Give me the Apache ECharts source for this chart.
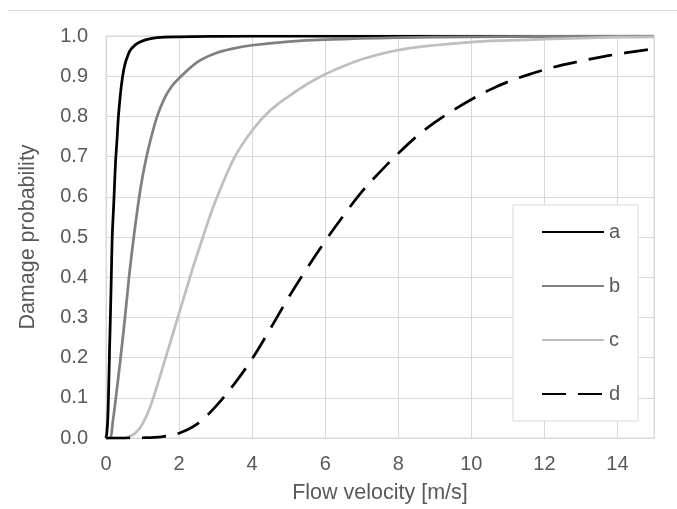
<!DOCTYPE html>
<html>
<head>
<meta charset="utf-8">
<script src="https://cdn.jsdelivr.net/npm/echarts@6/dist/echarts.min.js"></script>
<style>
  html, body { margin: 0; padding: 0; background: #fff; }
  #chart { width: 677px; height: 509px; }
</style>
</head>
<body>
<div id="chart"></div>
<script>
// Fragility curves: damage probability vs flow velocity, one [velocity, probability] list per curve
const curveNames = ['a', 'b', 'c', 'd'];

const curveA = [
  [0, 0], [0.02, 0.01], [0.05, 0.05], [0.08, 0.15], [0.1, 0.23], [0.12, 0.3],
  [0.145, 0.4], [0.17, 0.5], [0.2, 0.56], [0.22, 0.6], [0.25, 0.665], [0.27, 0.7],
  [0.3, 0.74], [0.34, 0.8], [0.4, 0.86], [0.455, 0.9], [0.52, 0.93], [0.6, 0.952],
  [0.66, 0.964], [0.8, 0.978], [0.93, 0.985], [1.1, 0.991], [1.4, 0.996], [2, 0.998],
  [3, 0.999], [5, 1], [15, 1]
];

const curveB = [
  [0, 0], [0.1, 0], [0.2, 0.05], [0.27, 0.1], [0.4, 0.2], [0.52, 0.3], [0.63, 0.4],
  [0.76, 0.5], [0.91, 0.6], [1.0, 0.65], [1.11, 0.7], [1.2, 0.735], [1.4, 0.8],
  [1.6, 0.845], [1.8, 0.875], [2.0, 0.895], [2.5, 0.935], [3.0, 0.957], [3.5, 0.969],
  [4.0, 0.977], [5, 0.986], [6, 0.991], [8, 0.996], [10, 0.998], [12, 0.999], [15, 1]
];

const curveC = [
  [0, 0], [0.5, 0], [0.6, 0.002], [0.8, 0.012], [1.0, 0.035], [1.2, 0.075],
  [1.4, 0.13], [1.6, 0.19], [1.8, 0.25], [2.0, 0.31], [2.2, 0.37], [2.4, 0.43],
  [2.6, 0.485], [2.8, 0.54], [3.0, 0.59], [3.5, 0.695], [4.0, 0.765], [4.5, 0.815],
  [5.0, 0.85], [5.5, 0.88], [6.0, 0.905], [7.0, 0.942], [8.0, 0.965], [9, 0.977],
  [10, 0.985], [11, 0.989], [12, 0.992], [13, 0.995], [14, 0.997], [15, 0.998]
];

const curveD = [
  [0, 0], [0.5, 0], [1.0, 0.0005], [1.5, 0.003], [2.0, 0.012], [2.5, 0.035],
  [3.0, 0.078], [3.5, 0.133], [4.0, 0.197], [4.5, 0.272], [5.0, 0.35], [5.5, 0.422],
  [6.0, 0.49], [6.5, 0.553], [7.0, 0.612], [7.5, 0.662], [8.0, 0.708], [8.5, 0.75],
  [9.0, 0.785], [9.5, 0.815], [10, 0.842], [10.5, 0.866], [11, 0.886], [11.5, 0.902],
  [12, 0.916], [12.5, 0.928], [13, 0.938], [13.5, 0.947], [14, 0.955], [14.5, 0.962],
  [15, 0.968]
];

const xTitle = 'Flow velocity [m/s]';
const yTitle = 'Damage probability';

const textColor = '#595959';
const gridColor = '#d9d9d9';
const fontFamily = '"Liberation Sans", Arial, sans-serif';

function lineSeries(name, data, color, dashed) {
  return {
    name: name,
    type: 'line',
    data: data,
    showSymbol: false,
    symbol: 'none',
    smooth: 0.35,
    clip: true,
    lineStyle: {
      color: color,
      width: 2.75,
      type: dashed ? [24, 12] : 'solid',
      cap: 'butt'
    },
    itemStyle: { color: color }
  };
}

const chart = echarts.init(document.getElementById('chart'), null, { renderer: 'canvas' });

chart.setOption({
  animation: false,
  backgroundColor: '#ffffff',
  textStyle: { fontFamily: fontFamily },
  graphic: [{
    type: 'line',
    shape: { x1: 8, y1: 10.5, x2: 677, y2: 10.5 },
    style: { stroke: gridColor, lineWidth: 1 }
  }],
  grid: {
    left: 106, top: 36, right: 23, bottom: 71,
    show: true, borderColor: gridColor, borderWidth: 1
  },
  legend: {
    data: curveNames,
    orient: 'vertical',
    left: 513,
    top: 205,
    itemWidth: 62,
    itemHeight: 14,
    itemGap: 34,
    itemTextGap: 5,
    padding: [17, 18, 17, 28],
    borderColor: gridColor,
    borderWidth: 1,
    backgroundColor: '#ffffff',
    itemStyle: { opacity: 0 },
    textStyle: { fontSize: 20, color: textColor, fontFamily: fontFamily }
  },
  xAxis: {
    type: 'value',
    min: 0, max: 15, interval: 2,
    name: xTitle,
    nameLocation: 'middle',
    nameGap: 44,
    nameTextStyle: { fontSize: 21.5, color: textColor, fontFamily: fontFamily },
    axisLine: { show: true, lineStyle: { color: gridColor } },
    axisTick: { show: false },
    axisLabel: { fontSize: 20, color: textColor, margin: 16, showMaxLabel: false, fontFamily: fontFamily },
    splitLine: { show: true, lineStyle: { color: gridColor, width: 1 } }
  },
  yAxis: {
    type: 'value',
    min: 0, max: 1, interval: 0.1,
    name: yTitle,
    nameLocation: 'middle',
    nameRotate: 90,
    nameGap: 67,
    nameTextStyle: { fontSize: 21.5, color: textColor, fontFamily: fontFamily },
    axisLine: { show: true, lineStyle: { color: gridColor } },
    axisTick: { show: false },
    axisLabel: {
      fontSize: 20, color: textColor, margin: 18, fontFamily: fontFamily,
      formatter: v => v.toFixed(1)
    },
    splitLine: { show: true, lineStyle: { color: gridColor, width: 1 } }
  },
  series: [
    lineSeries(curveNames[0], curveA, '#000000', false),
    lineSeries(curveNames[1], curveB, '#808080', false),
    lineSeries(curveNames[2], curveC, '#bfbfbf', false),
    lineSeries(curveNames[3], curveD, '#000000', true)
  ]
});
</script>
</body>
</html>
